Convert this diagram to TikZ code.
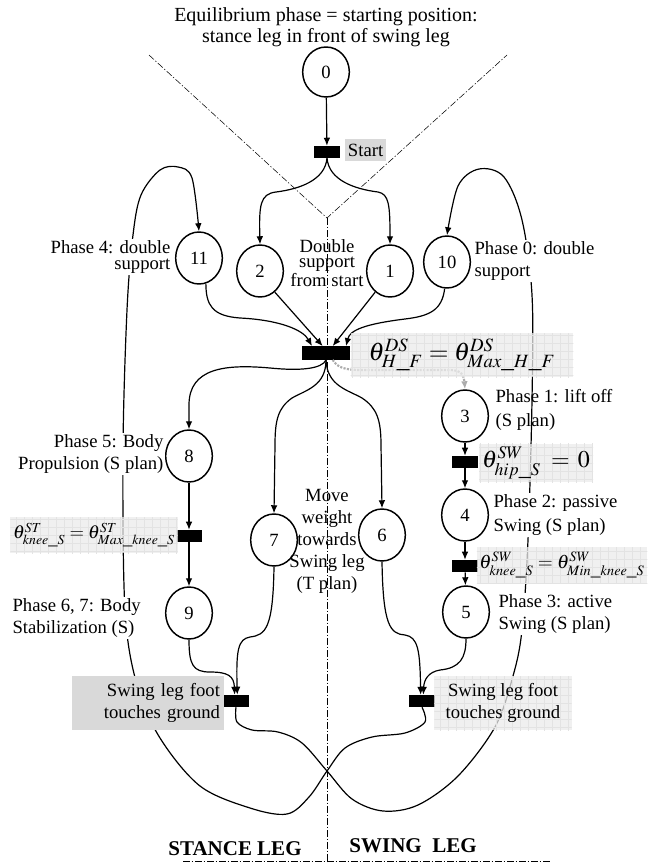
\documentclass[tikz,border=0pt]{standalone}
\usepackage{mathptmx}
\usepackage{fontspec}
\setmainfont{Liberation Serif}
\usetikzlibrary{shapes.geometric,arrows.meta,patterns.meta}

\tikzset{
  place/.style={draw,ellipse,line width=1.1pt,minimum width=35pt,minimum height=39pt,inner sep=0pt,fill=white},
  trans/.style={fill=black,minimum width=19pt,minimum height=9pt,inner sep=0pt},
  arc/.style={line width=0.9pt,-{Latex[length=6pt,width=5pt]}},
  dots/.style={draw=gray!65,line width=1.6pt,densely dotted,-{Latex[length=6pt,width=5pt]}},
  guide/.style={line width=0.4pt,dash pattern=on 5pt off 1.5pt on 1pt off 1.5pt},
  cond/.style={fill=gray!16,fill opacity=0.75,text opacity=1,inner sep=2pt,
    postaction={pattern={Hatch[angle=0,distance=6pt,line width=0.3pt]},pattern color=gray!22}},
  ph/.style={inner sep=1pt,fill=white},
}

\begin{document}
\begin{tikzpicture}[x=0.75pt,y=-0.75pt,font=\fontsize{14}{16.5}\selectfont]
\useasboundingbox (0,0) rectangle (647,863);

\coordinate (apex) at (327,218);
\draw[guide] (149,55) -- (apex) -- (507,55);
\draw[guide] (apex) -- (327,863);
\draw[guide] (183,861) -- (550,861);

\node[place,minimum height=37.5pt] (p0) at (326,72) {0};
\node[trans] (tStart) at (327,152) {};
\node[place] (p11) at (199,258) {11};
\node[place] (p2) at (260,271) {2};
\node[place] (p1) at (390,271) {1};
\node[place] (p10) at (447,262) {10};
\node[trans,minimum width=36pt,minimum height=10pt] (tDS) at (326,353) {};
\node[place] (p3) at (465,416) {3};
\node[trans] (tHip) at (465,462) {};
\node[place] (p4) at (465,515) {4};
\node[trans] (tKneeSW) at (465,566) {};
\node[place] (p5) at (466,612) {5};
\node[place] (p8) at (189,456) {8};
\node[trans] (tKneeST) at (189,536) {};
\node[place] (p9) at (189,613) {9};
\node[place] (p7) at (274,540) {7};
\node[place] (p6) at (382,535) {6};
\node[trans] (tFootL) at (236,701) {};
\node[trans] (tFootR) at (422,701) {};

\draw[arc] plot[smooth,tension=0.55] coordinates {(tFootR.south) (425,722) (405,733) (372,737) (345,748) (327,771) (309,797) (287,814) (250,808) (200,786) (160,738) (137,685) (125,610) (123,450) (127,310) (133,235) (141,195) (160,170) (178,167) (192,178) (p11.north)};
\draw[arc] plot[smooth,tension=0.55] coordinates {(tFootL.south) (237,722) (252,730) (278,732) (302,743) (327,771) (352,799) (383,811) (418,805) (458,776) (495,727) (513,676) (522,630) (528,540) (532,400) (532,295) (522,220) (504,177) (479,169) (458,186) (p10.north)};

\draw[arc] (p0) -- (tStart);
\draw[arc] (tStart.south) .. controls (325,180) and (300,189) .. (276,192) .. controls (260,194) and (259,205) .. (p2.north);
\draw[arc] (tStart.south) .. controls (329,180) and (354,189) .. (378,192) .. controls (389,194) and (390,205) .. (p1.north);

\draw[arc] (p11.-75) .. controls (206,305) and (212,316) .. (240,318) .. controls (280,320) and (303,330) .. ([xshift=-10.5pt]tDS.north);
\draw[arc] (p2.-55) -- ([xshift=-2.5pt]tDS.north);
\draw[arc] (p1.-125) -- ([xshift=5pt]tDS.north);
\draw[arc] (p10.-95) .. controls (442,310) and (430,316) .. (405,319) .. controls (365,324) and (350,330) .. ([xshift=15pt]tDS.north);

\draw[arc] (tDS.south) .. controls (322,369) and (300,371) .. (270,368) .. controls (225,364) and (189,368) .. (189,405) -- (p8.north);
\draw[arc] (tDS.south) .. controls (326,386) and (306,390) .. (292,398) .. controls (278,408) and (275,420) .. (275,445) -- (p7.north);
\draw[arc] (tDS.south) .. controls (327,386) and (348,390) .. (362,398) .. controls (377,408) and (381,420) .. (381,445) -- (p6.north);
\draw[dots] ([xshift=5pt]tDS.south) .. controls (338,368) and (345,370) .. (362,370) -- (450,370) .. controls (462,370) and (464,376) .. (p3.north);

\draw[arc] (p3) -- (tHip);
\draw[arc] (tHip) -- (p4);
\draw[arc] (p4) -- (tKneeSW);
\draw[arc] (tKneeSW) -- (p5);
\draw[arc] (p8) -- (tKneeST);
\draw[arc] (tKneeST) -- (p9);

\draw[arc] (p9.south) .. controls (189,665) and (193,672) .. (210,672) .. controls (228,672) and (234,676) .. ([xshift=-1pt]tFootL.north);
\draw[arc] (p7.south) .. controls (273,628) and (266,635) .. (250,637) .. controls (238,639) and (236,650) .. ([xshift=1pt]tFootL.north);
\draw[arc] (p6.south) .. controls (383,625) and (390,634) .. (405,635) .. controls (418,637) and (420,650) .. ([xshift=-1pt]tFootR.north);
\draw[arc] (p5.south) .. controls (466,658) and (460,668) .. (440,670) .. controls (428,672) and (424,680) .. ([xshift=1pt]tFootR.north);

\node[anchor=west,fill=gray!30,inner sep=2pt,minimum height=16.5pt] (lStart) at (345,150) {Start};
\node[cond,minimum width=167pt,minimum height=33pt,font=\fontsize{19}{20}\selectfont] (lDS) at (462,355) {$\theta^{DS}_{H\_F}=\theta^{DS}_{Max\_H\_F}$};
\node[cond,minimum width=85.5pt,minimum height=29pt,font=\fontsize{18}{20}\selectfont] (lHip) at (536,463) {$\theta^{SW}_{hip\_S}\;=\,0$};
\node[cond,minimum width=127.5pt,minimum height=27pt,font=\fontsize{14.5}{17}\selectfont] (lKneeSW) at (562,565) {$\theta^{SW}_{knee\_S}=\theta^{SW}_{Min\_knee\_S}$};
\node[cond,minimum width=121.5pt,minimum height=27pt] (lKneeST) at (94,535) {$\theta^{ST}_{knee\_S}=\theta^{ST}_{Max\_knee\_S}$};
\node[align=right,text width=108pt,fill=gray!30,inner sep=3pt,minimum height=40pt] (lFootL) at (148,703) {Swing leg foot\\touches ground};
\node[cond,align=center,minimum width=103pt,minimum height=40.5pt] (lFootR) at (503,703) {Swing leg foot\\touches ground};

\node[align=center,font=\fontsize{15}{15.5}\selectfont] (title) at (326,27) {Equilibrium phase = starting position:\\stance leg in front of swing leg};
\node[align=center,font=\fontsize{14}{11.6}\selectfont] (dbl) at (327,263) {Double\\support\\from start};
\node[ph,align=right,anchor=east,font=\fontsize{14}{12.4}\selectfont] (ph4) at (172,257) {Phase 4: double\\support};
\node[ph,align=left,anchor=west,font=\fontsize{14}{17}\selectfont] (ph0) at (473,261) {Phase 0: double\\support};
\node[align=left,anchor=west,inner sep=1pt,font=\fontsize{14}{18}\selectfont] (ph1) at (494,410) {Phase 1: lift off\\(S plan)};
\node[ph,align=left,anchor=west,font=\fontsize{14}{18}\selectfont] (ph2) at (492,515) {Phase 2: passive\\Swing (S plan)};
\node[ph,align=left,anchor=west] (ph3) at (497,614) {Phase 3: active\\Swing (S plan)};
\node[ph,align=right,anchor=east] (ph5) at (165,454) {Phase 5: Body\\Propulsion (S plan)};
\node[ph,align=left,anchor=west] (ph67) at (11,618) {Phase 6, 7: Body\\Stabilization (S)};
\node[align=center] (move) at (327,541) {Move\\weight\\towards\\Swing leg\\(T plan)};
\node[font=\fontsize{15.75}{18}\selectfont\bfseries] (stance) at (235,849) {STANCE LEG};
\node[font=\fontsize{15.75}{18}\selectfont\bfseries] (swing) at (413,846) {SWING\ \ LEG};
\end{tikzpicture}
\end{document}
